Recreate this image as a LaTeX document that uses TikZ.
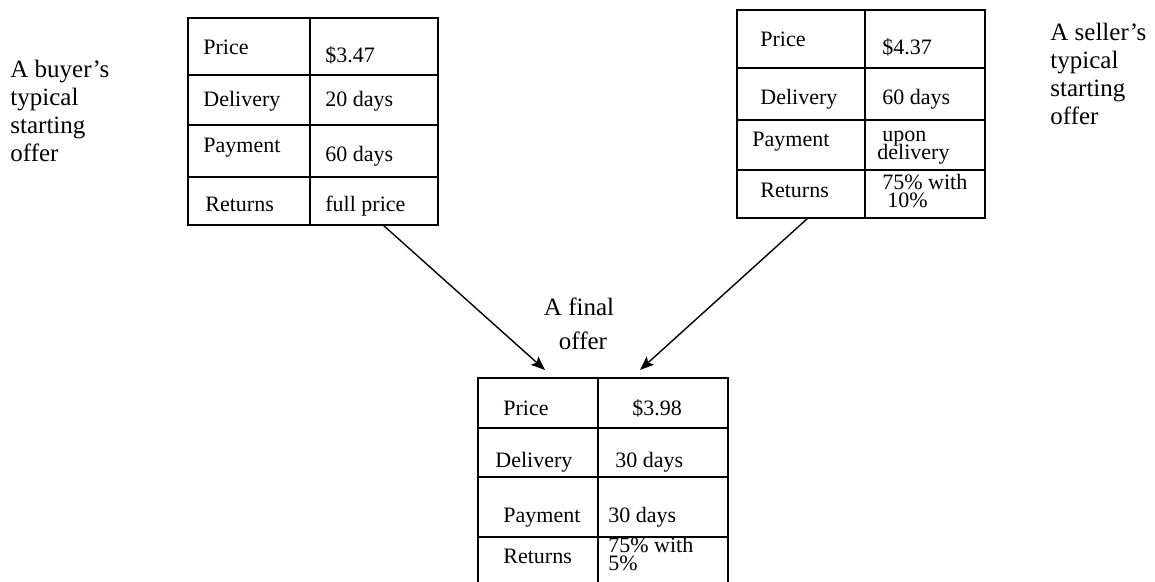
\documentclass[tikz,border=0pt]{standalone}
\usepackage{fontspec}
\setmainfont{Liberation Serif}
\usetikzlibrary{arrows.meta}
\begin{document}
\begin{tikzpicture}[x=0.5pt,y=-0.5pt,
  cell/.style={anchor=base west, inner sep=0pt, font=\fontsize{11}{13}\selectfont},
  lbl/.style={anchor=base west, inner sep=0pt, font=\fontsize{12.5}{15}\selectfont},
  clbl/.style={anchor=base, inner sep=0pt, font=\fontsize{12.5}{15}\selectfont},
  grid/.style={line width=1pt},
  conn/.style={line width=0.7pt, -{Stealth[length=7pt,width=5.5pt,inset=1.5pt]}}]
\useasboundingbox (0,0) rectangle (1155,582);

% ---------- buyer's table ----------
\draw[grid] (188,18) rectangle (438,225);
\draw[grid] (310,18) -- (310,225);
\draw[grid] (188,75) -- (438,75);
\draw[grid] (188,125) -- (438,125);
\draw[grid] (188,177) -- (438,177);
\node[cell] (bp)  at (203,55)  {Price};
\node[cell] (bpv) at (325,63)  {\$3.47};
\node[cell] (bd)  at (203,107) {Delivery};
\node[cell] (bdv) at (325,107) {20 days};
\node[cell] (by)  at (203,153) {Payment};
\node[cell] (byv) at (325,162) {60 days};
\node[cell] (br)  at (205,212) {Returns};
\node[cell] (brv) at (325,212) {full price};

% ---------- seller's table ----------
\draw[grid] (737,10) rectangle (985,218);
\draw[grid] (865,10) -- (865,218);
\draw[grid] (737,68) -- (985,68);
\draw[grid] (737,120) -- (985,120);
\draw[grid] (737,170) -- (985,170);
\node[cell] (sp)  at (760,47)  {Price};
\node[cell] (spv) at (882,55)  {\$4.37};
\node[cell] (sd)  at (760,105) {Delivery};
\node[cell] (sdv) at (882,105) {60 days};
\node[cell] (sy)  at (752,147) {Payment};
\node[cell] (syv) at (882,142) {upon};
\node[cell] (syw) at (877,160) {delivery};
\node[cell] (sr)  at (760,198) {Returns};
\node[cell] (srv) at (882,190) {75\% with};
\node[cell] (srw) at (887,208) {10\%};

% ---------- final table ----------
\draw[grid] (478,582) -- (478,378) -- (728,378) -- (728,582);
\draw[grid] (598,378) -- (598,582);
\draw[grid] (478,428) -- (728,428);
\draw[grid] (478,477) -- (728,477);
\draw[grid] (478,537) -- (728,537);
\node[cell] (fp)  at (503,415) {Price};
\node[cell] (fpv) at (632,415) {\$3.98};
\node[cell] (fd)  at (495,467) {Delivery};
\node[cell] (fdv) at (615,467) {30 days};
\node[cell] (fy)  at (503,522) {Payment};
\node[cell] (fyv) at (608,522) {30 days};
\node[cell] (fr)  at (503,563) {Returns};
\node[cell] (frv) at (608,552) {75\% with};
\node[cell] (frw) at (608,570) {5\%};

% ---------- labels ----------
\node[lbl] (bl1) at (10,78)  {A buyer's};
\node[lbl] (bl2) at (10,106) {typical};
\node[lbl] (bl3) at (10,134) {starting};
\node[lbl] (bl4) at (10,162) {offer};

\node[lbl] (sl1) at (1050,41)  {A seller's};
\node[lbl] (sl2) at (1050,69)  {typical};
\node[lbl] (sl3) at (1050,97)  {starting};
\node[lbl] (sl4) at (1050,125) {offer};

\node[clbl] (fl1) at (579,315) {A final};
\node[clbl] (fl2) at (583,350) {offer};

% ---------- connectors ----------
\coordinate (bout) at (383,225);
\coordinate (sout) at (808,218);
\coordinate (fin1) at (545,370);
\coordinate (fin2) at (640,370);
\draw[conn] (bout) -- (fin1);
\draw[conn] (sout) -- (fin2);
\end{tikzpicture}
\end{document}
